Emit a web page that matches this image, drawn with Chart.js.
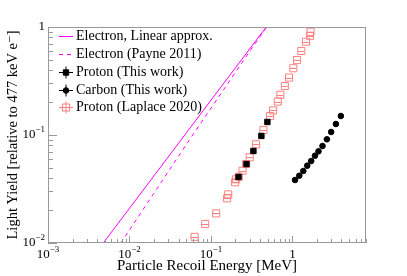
<!DOCTYPE html>
<html>
<head>
<meta charset="utf-8">
<script src="https://cdn.jsdelivr.net/npm/chart.js@4.4.0/dist/chart.umd.min.js"></script>
<style>
html,body{margin:0;padding:0;background:#fff;}
</style>
</head>
<body>
<canvas id="myChart" width="407" height="276"></canvas>
<script>
// values
const electronLinearE = [0.00477, 0.477];
const electronLinearLY = [0.01, 1.0];
const payneE = [0.00783, 0.02, 0.0578, 0.15, 0.3, 0.485];
const payneLY = [0.01, 0.029, 0.0965, 0.277, 0.597, 1.0];
const protonE = [0.218, 0.273, 0.332, 0.416, 0.493];
const protonLY = [0.0409, 0.0538, 0.0711, 0.098, 0.132];
const carbonE = [1.076, 1.214, 1.36, 1.52, 1.70, 1.89, 2.09, 2.34, 2.65, 2.99, 3.42, 3.93];
const carbonLY = [0.0383, 0.0420, 0.0464, 0.0520, 0.0574, 0.0643, 0.0706, 0.0791, 0.0912, 0.1067, 0.1265, 0.150];
const laplaceE = [0.063, 0.085, 0.116, 0.158, 0.163, 0.198, 0.204, 0.220, 0.244, 0.270, 0.299, 0.358, 0.441,
                  0.532, 0.579, 0.662, 0.711, 0.807, 0.908, 1.026, 1.14, 1.285, 1.467, 1.641, 1.67];
const laplaceLY = [0.0114, 0.0150, 0.0188, 0.0259, 0.0282, 0.0365, 0.0389, 0.0411, 0.0467, 0.0538, 0.0622, 0.0820, 0.111,
                   0.150, 0.169, 0.204, 0.236, 0.284, 0.340, 0.415, 0.494, 0.600, 0.731, 0.830, 0.904];
const laplaceEErr = [0.0075, 0.010, 0.013, 0.017, 0.016, 0.022, 0.021, 0.020, 0.022, 0.025, 0.028, 0.034, 0.040,
                     0.050, 0.050, 0.060, 0.060, 0.070, 0.080, 0.090, 0.090, 0.110, 0.120, 0.150, 0.150];

const xTickValues = [0.001, 0.01, 0.1, 1];
const xTickLabels = ["10^\u22123", "10^\u22122", "10^\u22121", "1"];
const yTickValues = [0.01, 0.1, 1];
const yTickLabels = ["10^\u22122", "10^\u22121", "1"];
const xTitle = "Particle Recoil Energy [MeV]";
const yTitle = "Light Yield [relative to 477 keV e\u207B]";

const serif = '"Liberation Serif", "DejaVu Serif", serif';
const gray = "#9a9a9a";
const magenta = "#ff00ff";
const pink = "#ff8080";

function pts(xs, ys) {
    return xs.map((x, i) => ({x: x, y: ys[i]}));
}

function powLabel(ctx, label, x, y, align) {
    let p = label.split("^");
    ctx.font = "13px " + serif;
    let w1 = ctx.measureText(p[0]).width;
    let w2 = 0;
    if (p[1]) {
        ctx.font = "9px " + serif;
        w2 = ctx.measureText(p[1]).width;
    }
    let x0 = align === "center" ? x - (w1 + w2) / 2 : x - w1 - w2;
    ctx.textAlign = "left";
    ctx.textBaseline = "middle";
    ctx.font = "13px " + serif;
    ctx.fillText(p[0], x0, y);
    if (p[1]) {
        ctx.font = "9px " + serif;
        ctx.fillText(p[1], x0 + w1, y - 5);
    }
}

// x error bars for the Laplace points, under the markers
const errorBars = {
    id: "errorBars",
    beforeDatasetsDraw(chart) {
        let ctx = chart.ctx, xs = chart.scales.x, ys = chart.scales.y;
        ctx.save();
        ctx.strokeStyle = pink;
        ctx.lineWidth = 1;
        laplaceE.forEach((e, i) => {
            let py = Math.round(ys.getPixelForValue(laplaceLY[i])) + 0.5;
            ctx.beginPath();
            ctx.moveTo(xs.getPixelForValue(e - laplaceEErr[i]), py);
            ctx.lineTo(xs.getPixelForValue(e + laplaceEErr[i]), py);
            ctx.stroke();
        });
        ctx.restore();
    }
};

// ROOT-like frame, inner ticks, labels, titles and legend
const rootFrame = {
    id: "rootFrame",
    afterDraw(chart) {
        let ctx = chart.ctx, a = chart.chartArea;
        let xs = chart.scales.x, ys = chart.scales.y;
        ctx.save();
        ctx.strokeStyle = gray;
        ctx.lineWidth = 1;
        ctx.strokeRect(a.left + 0.5, a.top + 0.5, a.right - a.left - 1, a.bottom - a.top - 1);

        ctx.beginPath();
        for (let d = -3; d <= 0; d++) {
            for (let m = 1; m <= 9; m++) {
                let v = m * Math.pow(10, d);
                if (v > 8) break;
                let px = Math.round(xs.getPixelForValue(v)) + 0.5;
                let len = m === 1 ? 7 : 4;
                ctx.moveTo(px, a.bottom);
                ctx.lineTo(px, a.bottom - len);
            }
        }
        for (let d = -2; d <= 0; d++) {
            for (let m = 1; m <= 9; m++) {
                let v = m * Math.pow(10, d);
                if (v > 1) break;
                let py = Math.round(ys.getPixelForValue(v)) + 0.5;
                let len = m === 1 ? 9 : 5;
                ctx.moveTo(a.left, py);
                ctx.lineTo(a.left + len, py);
            }
        }
        ctx.stroke();

        ctx.fillStyle = "#000";
        xTickValues.forEach((v, i) => powLabel(ctx, xTickLabels[i], xs.getPixelForValue(v), 255, "center"));
        yTickValues.forEach((v, i) => powLabel(ctx, yTickLabels[i], 45, ys.getPixelForValue(v), "right"));

        ctx.font = "15px " + serif;
        ctx.textAlign = "center";
        ctx.textBaseline = "alphabetic";
        ctx.fillText(xTitle, (a.left + a.right) / 2, 270);
        ctx.font = "14.5px " + serif;
        ctx.translate(17, (a.top + a.bottom) / 2);
        ctx.rotate(-Math.PI / 2);
        ctx.fillText(yTitle, 0, 0);
        ctx.restore();

        // legend
        ctx.save();
        let rowY = [36.5, 54.5, 72.5, 90.5, 107.5];
        chart.data.datasets.forEach((ds, i) => {
            let y = rowY[i];
            ctx.strokeStyle = ds.borderColor;
            ctx.lineWidth = 1;
            if (ds.showLine) {
                ctx.setLineDash(ds.borderDash || []);
                ctx.beginPath();
                ctx.moveTo(59, y);
                ctx.lineTo(73, y);
                ctx.stroke();
                ctx.setLineDash([]);
            } else {
                ctx.strokeStyle = ds.legendColor;
                ctx.beginPath();
                ctx.moveTo(59, y);
                ctx.lineTo(73, y);
                ctx.moveTo(66, y - 6);
                ctx.lineTo(66, y + 6);
                ctx.stroke();
                let r = ds.pointStyle === "rect" ? ds.pointRadius * Math.SQRT1_2 : ds.pointRadius;
                ctx.fillStyle = ds.pointBackgroundColor;
                ctx.strokeStyle = ds.pointBorderColor;
                ctx.beginPath();
                if (ds.pointStyle === "rect") ctx.rect(66 - r, y - r, 2 * r, 2 * r);
                else ctx.arc(66, y, r, 0, 2 * Math.PI);
                ctx.fill();
                ctx.stroke();
            }
            ctx.fillStyle = "#000";
            ctx.font = "14px " + serif;
            ctx.textAlign = "left";
            ctx.textBaseline = "middle";
            ctx.fillText(ds.label, 76, y);
        });
        ctx.restore();
    }
};

new Chart("myChart", {
    type: "scatter",
    data: {
        datasets: [{
            label: "Electron, Linear approx.",
            data: pts(electronLinearE, electronLinearLY),
            showLine: true,
            borderColor: magenta,
            borderWidth: 1,
            pointRadius: 0
        }, {
            label: "Electron (Payne 2011)",
            data: pts(payneE, payneLY),
            showLine: true,
            borderColor: magenta,
            borderWidth: 1,
            borderDash: [4, 4],
            pointRadius: 0
        }, {
            label: "Proton (This work)",
            data: pts(protonE, protonLY),
            pointStyle: "rect",
            pointRadius: 3.8,
            pointBackgroundColor: "#000",
            pointBorderColor: "#000",
            borderColor: "#000",
            legendColor: "#000",
            pointBorderWidth: 1
        }, {
            label: "Carbon (This work)",
            data: pts(carbonE, carbonLY),
            pointStyle: "circle",
            pointRadius: 2.8,
            pointBackgroundColor: "#000",
            pointBorderColor: "#000",
            borderColor: "#000",
            legendColor: "#000",
            pointBorderWidth: 1
        }, {
            label: "Proton (Laplace 2020)",
            data: pts(laplaceE, laplaceLY),
            pointStyle: "rect",
            pointRadius: 5,
            pointBackgroundColor: "rgba(255,255,255,0)",
            pointBorderColor: pink,
            borderColor: pink,
            legendColor: pink,
            pointBorderWidth: 1
        }]
    },
    options: {
        responsive: false,
        devicePixelRatio: 1,
        animation: false,
        layout: {padding: {left: 48, right: 41, top: 27, bottom: 33}},
        plugins: {legend: {display: false}, tooltip: {enabled: false}},
        scales: {
            x: {
                type: "logarithmic", min: 0.001, max: 8,
                ticks: {display: false}, grid: {display: false}, border: {display: false},
                afterFit: (s) => { s.height = 0; s.paddingLeft = 0; s.paddingRight = 0; }
            },
            y: {
                type: "logarithmic", min: 0.01, max: 1,
                ticks: {display: false}, grid: {display: false}, border: {display: false},
                afterFit: (s) => { s.width = 0; s.paddingTop = 0; s.paddingBottom = 0; }
            }
        }
    },
    plugins: [errorBars, rootFrame]
});
</script>
</body>
</html>
